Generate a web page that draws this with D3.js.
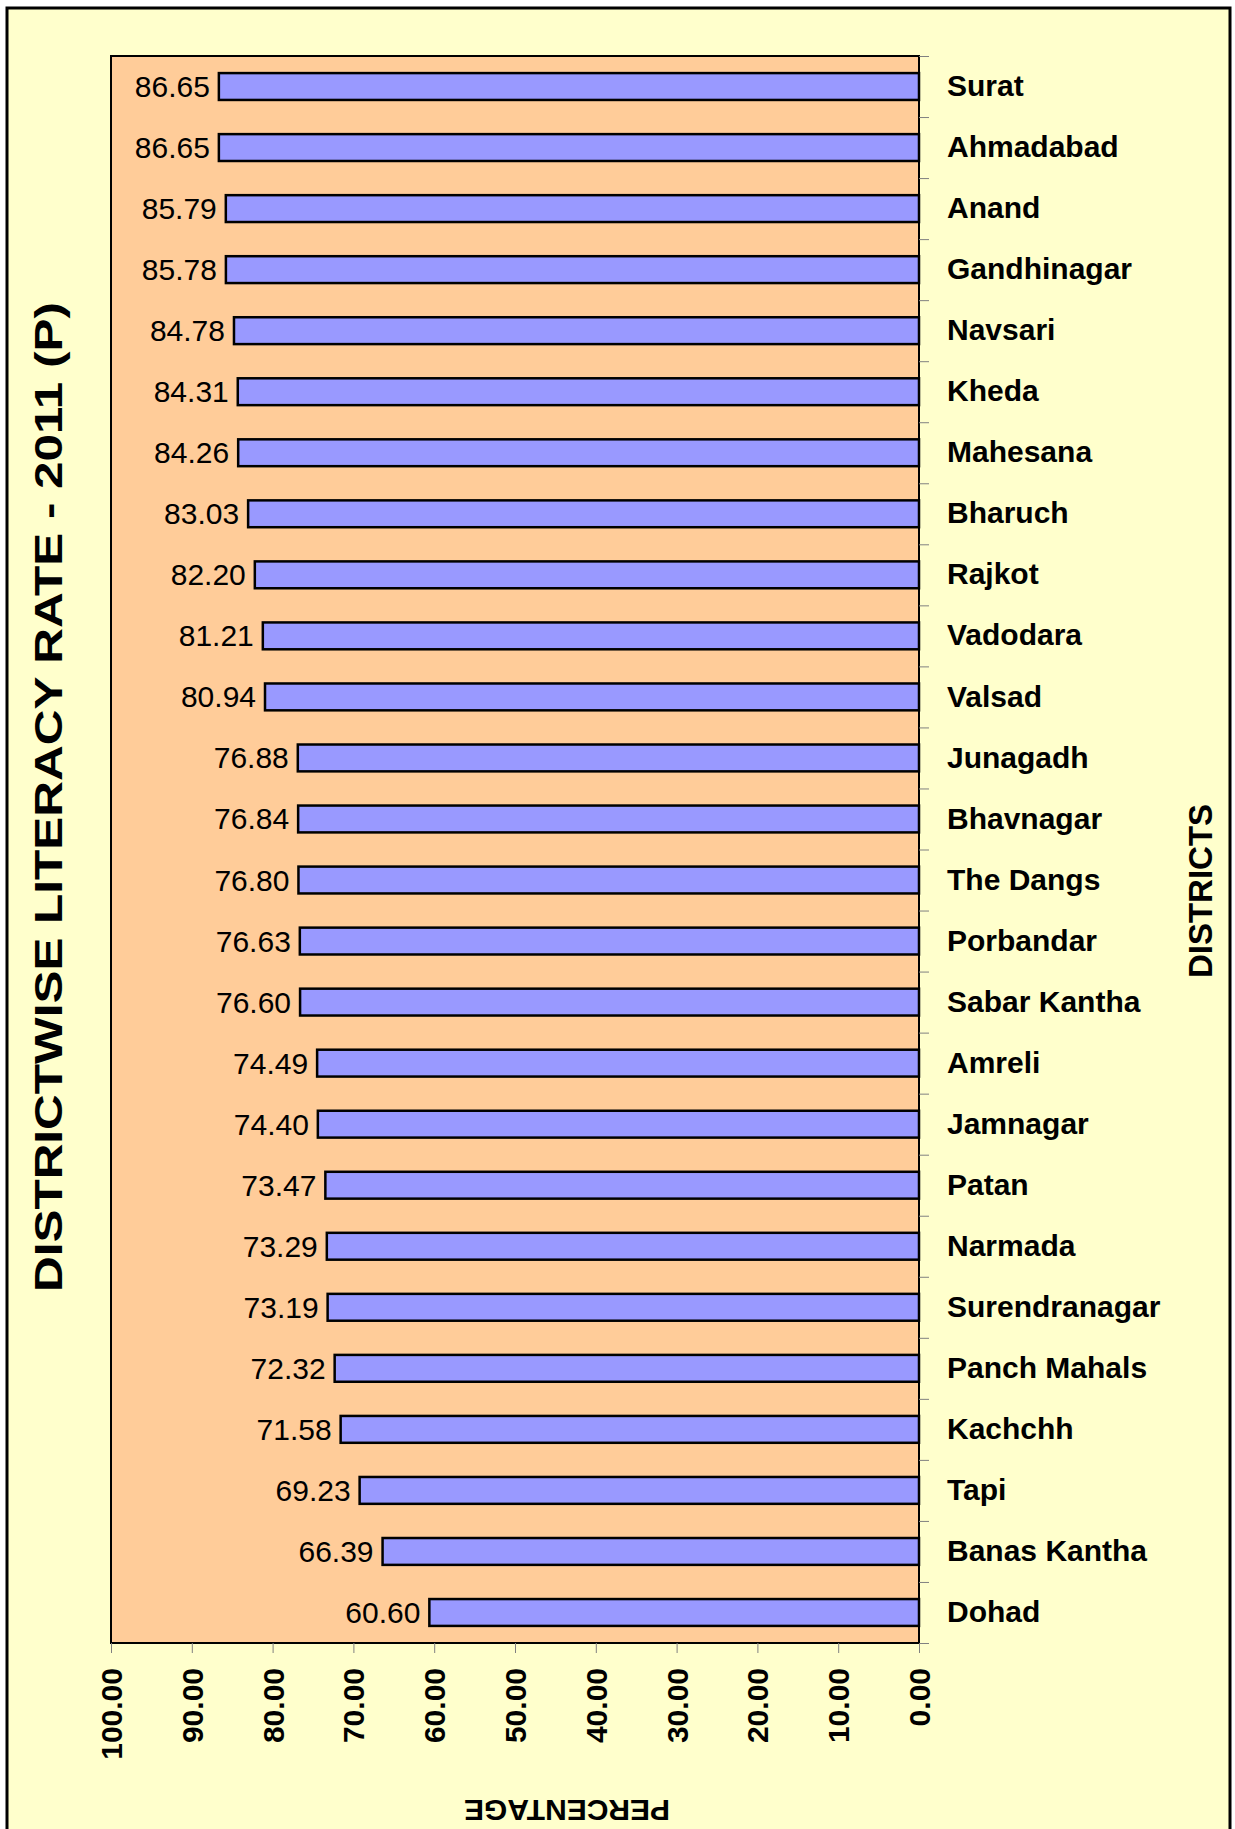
<!DOCTYPE html>
<html>
<head>
<meta charset="utf-8">
<script src="https://cdn.jsdelivr.net/npm/d3@7"></script>
<style>
  body { margin: 0; background: #fff; }
  text { font-family: "Liberation Sans", Arial, sans-serif; fill: #000; }
</style>
</head>
<body>
<div id="chart"></div>
<script>
// Data: district literacy rate, Gujarat 2011 (provisional)
const districts = ["Surat", "Ahmadabad", "Anand", "Gandhinagar", "Navsari", "Kheda", "Mahesana",
  "Bharuch", "Rajkot", "Vadodara", "Valsad", "Junagadh", "Bhavnagar", "The Dangs", "Porbandar",
  "Sabar Kantha", "Amreli", "Jamnagar", "Patan", "Narmada", "Surendranagar", "Panch Mahals",
  "Kachchh", "Tapi", "Banas Kantha", "Dohad"];
const literacy = [86.65, 86.65, 85.79, 85.78, 84.78, 84.31, 84.26, 83.03, 82.20, 81.21, 80.94,
  76.88, 76.84, 76.80, 76.63, 76.60, 74.49, 74.40, 73.47, 73.29, 73.19, 72.32, 71.58, 69.23,
  66.39, 60.60];
const xTicks = [0, 10, 20, 30, 40, 50, 60, 70, 80, 90, 100];

const width = 1235;
const height = 1829;

// plot area
const plot = { left: 111, right: 919, top: 56, bottom: 1643 };

const svg = d3.select("#chart")
  .append("svg")
  .attr("width", width)
  .attr("height", height);

// outer frame
svg.append("rect")
  .attr("x", 7).attr("y", 8)
  .attr("width", 1223).attr("height", 1840)
  .attr("fill", "#FFFFCC")
  .attr("stroke", "#000")
  .attr("stroke-width", 3);

// scales (x axis runs from 100 on the left to 0 on the right)
const x = d3.scaleLinear().domain([0, 100]).range([plot.right, plot.left]);
const y = d3.scaleBand().domain(districts).range([plot.top, plot.bottom])
  .paddingInner(0.56).paddingOuter(0.28);

const datos = districts.map((d, i) => ({ name: d, value: literacy[i] }));

svg.append("rect")
  .attr("x", plot.left).attr("y", plot.top)
  .attr("width", plot.right - plot.left).attr("height", plot.bottom - plot.top)
  .attr("fill", "#FFCC99")
  .attr("stroke", "#000")
  .attr("stroke-width", 2);

// bars
svg.append("g")
  .selectAll("rect")
  .data(datos)
  .join("rect")
  .attr("x", d => x(d.value))
  .attr("y", d => y(d.name))
  .attr("width", d => x(0) - x(d.value))
  .attr("height", y.bandwidth())
  .attr("fill", "#9999FF")
  .attr("stroke", "#000")
  .attr("stroke-width", 2.5);

// value labels
svg.append("g")
  .selectAll("text")
  .data(datos)
  .join("text")
  .attr("x", d => x(d.value) - 9)
  .attr("y", d => y(d.name) + y.bandwidth() / 2)
  .attr("dy", "0.35em")
  .attr("text-anchor", "end")
  .style("font-size", "30px")
  .text(d => d3.format(".2f")(d.value));

// right side tick marks at band boundaries
const bordes = d3.scaleLinear().domain([0, districts.length]).range([plot.top, plot.bottom]);
svg.append("g")
  .attr("transform", `translate(${plot.right},0)`)
  .call(d3.axisRight(bordes).tickValues(d3.range(districts.length + 1)).tickSize(10).tickFormat(""))
  .call(g => g.select(".domain").remove())
  .call(g => g.selectAll("line").attr("stroke", "#808080"));

// district names
svg.append("g")
  .attr("transform", `translate(${plot.right},0)`)
  .call(d3.axisRight(y).tickSize(0).tickPadding(28))
  .call(g => g.select(".domain").remove())
  .call(g => g.selectAll("text")
    .attr("font-family", null)
    .attr("font-size", null)
    .style("font-size", "30px")
    .style("font-weight", "bold"));

// bottom axis with rotated labels
svg.append("g")
  .attr("transform", `translate(0,${plot.bottom})`)
  .call(d3.axisBottom(x).tickValues(xTicks).tickSize(10).tickFormat(d3.format(".2f")))
  .call(g => g.select(".domain").remove())
  .call(g => g.selectAll("line").attr("stroke", "#808080"))
  .call(g => g.selectAll("text")
    .attr("font-family", null)
    .attr("font-size", null)
    .attr("transform", "rotate(-90)")
    .attr("text-anchor", "end")
    .attr("x", -25)
    .attr("y", 0)
    .attr("dy", "0.35em")
    .style("font-size", "30px")
    .style("font-weight", "bold"));

// title on the left (stretched to the reference length)
svg.append("text")
  .attr("transform", "translate(62,797) rotate(-90)")
  .attr("text-anchor", "middle")
  .attr("textLength", 990)
  .attr("lengthAdjust", "spacingAndGlyphs")
  .style("font-size", "39px")
  .style("font-weight", "bold")
  .text("DISTRICTWISE LITERACY RATE - 2011 (P)");

// axis titles
svg.append("text")
  .attr("transform", "translate(1212,891) rotate(-90)")
  .attr("text-anchor", "middle")
  .style("font-size", "33px")
  .style("font-weight", "bold")
  .text("DISTRICTS");

svg.append("text")
  .attr("transform", "translate(567,1800) rotate(180)")
  .attr("text-anchor", "middle")
  .style("font-size", "30px")
  .style("font-weight", "bold")
  .text("PERCENTAGE");
</script>
</body>
</html>
